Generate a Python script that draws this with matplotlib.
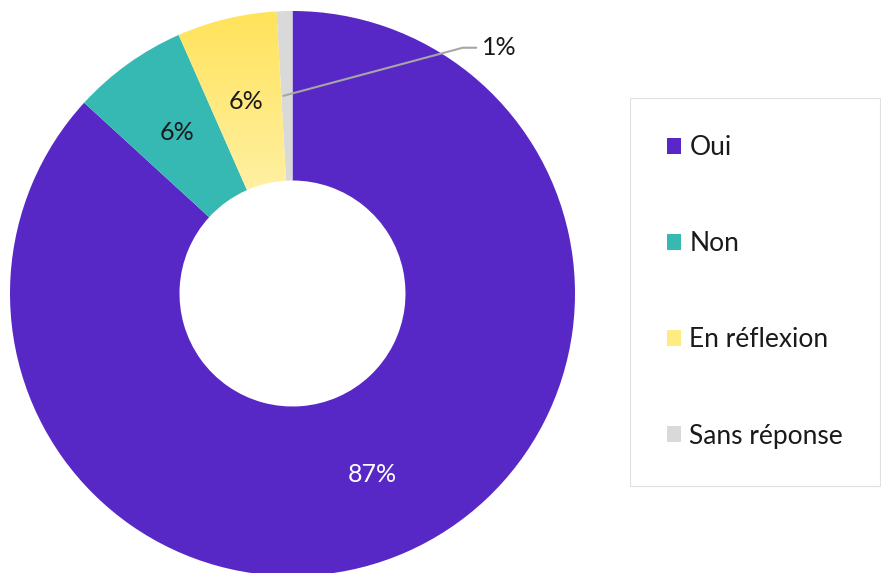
import numpy as np
import matplotlib
matplotlib.use("Agg")
import matplotlib.pyplot as plt
from matplotlib.patches import Patch
from matplotlib.colors import LinearSegmentedColormap

plt.rcParams['font.family'] = ['Lato', 'DejaVu Sans']

categories = ['Oui', 'Non', 'En réflexion', 'Sans réponse']
values = [86.8, 6.6, 5.7, 0.9]
pct_labels = ['87%', '6%', '6%', '1%']
colors = ['#5828C6', '#36B9B3', '#FFE55C', '#D9D9D9']
label_colors = ['white', '#1a1a1a', '#1a1a1a', '#1a1a1a']

W, H = 881, 573
fig = plt.figure(figsize=(W / 100, H / 100), dpi=100)
cx, cy, R = 292.5, 293.5, 282.5
ax = fig.add_axes([(cx - R) / W, (H - cy - R) / H, 2 * R / W, 2 * R / H])

wedges, _ = ax.pie(values, colors=colors, startangle=90, counterclock=False,
                   radius=1, wedgeprops=dict(width=0.6, linewidth=0))

# vertical gradient on the "En réflexion" wedge
yw = wedges[2]
yw.set_facecolor('none')
grad = LinearSegmentedColormap.from_list('yel', ['#FFF0A3', '#FFE35A'])
img = ax.imshow(np.linspace(0, 1, 256).reshape(-1, 1), cmap=grad, origin='lower',
                extent=[-0.6, 0.1, 0.36, 1.0], aspect='auto', zorder=1)
img.set_clip_path(yw)
ax.set_xlim(-1, 1)
ax.set_ylim(-1, 1)
ax.set_aspect('equal')
ax.axis('off')

for i, w in enumerate(wedges):
    ang = np.deg2rad((w.theta1 + w.theta2) / 2)
    if i < 3:
        ax.text(0.7 * np.cos(ang), 0.7 * np.sin(ang), pct_labels[i], ha='center',
                va='center', fontsize=18, color=label_colors[i], zorder=3)
    else:
        x0, y0 = 0.97 * np.cos(ang) - 0.005, 0.7 * np.sin(ang)
        ax.annotate(pct_labels[i], xy=(x0, y0), xytext=(0.67, 0.87),
                    fontsize=18, color='#1a1a1a', va='center', ha='left',
                    arrowprops=dict(arrowstyle='-', color='#a6a6a6', lw=1.5,
                                    connectionstyle='angle,angleA=0,angleB=15,rad=0',
                                    shrinkA=2, shrinkB=0), zorder=3)

handles = [Patch(facecolor=c, edgecolor='none') for c in colors]
handles[2] = Patch(facecolor='#FFEB80', edgecolor='none')
leg = fig.legend(handles, categories, loc='upper left',
                 bbox_to_anchor=(630 / W, 1 - 98 / H), bbox_transform=fig.transFigure,
                 frameon=True, fancybox=False, fontsize=19, labelspacing=2.7,
                 handlelength=0.55, handleheight=0.55, handletextpad=0.3,
                 borderpad=1.4, borderaxespad=0)
leg.get_frame().set_edgecolor('#d9d9d9')
leg.get_frame().set_linewidth(0.8)
for t in leg.get_texts():
    t.set_color('#1a1a1a')

fig.savefig('out.png', dpi=100)
